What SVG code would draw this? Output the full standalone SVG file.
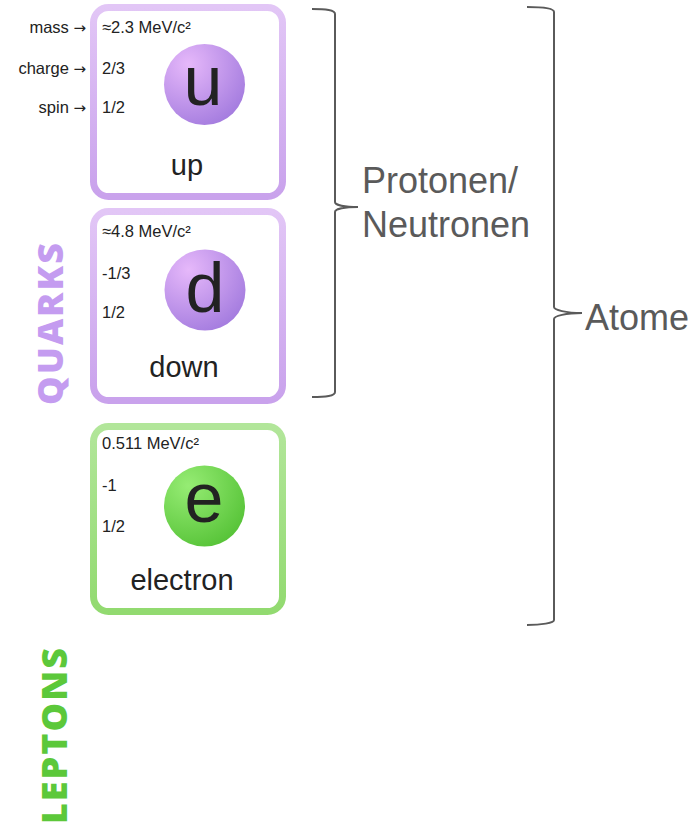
<svg xmlns="http://www.w3.org/2000/svg" width="693" height="826" viewBox="0 0 693 826">
<defs>
<linearGradient id="qBorder" x1="0" y1="0" x2="0" y2="1">
<stop offset="0" stop-color="#e2c6f6"/>
<stop offset="1" stop-color="#c9a2ec"/>
</linearGradient>
<linearGradient id="lBorder" x1="0" y1="0" x2="0" y2="1">
<stop offset="0" stop-color="#b2e69a"/>
<stop offset="1" stop-color="#92da70"/>
</linearGradient>
<radialGradient id="qBall" cx="0.3" cy="0.25" r="0.85">
<stop offset="0" stop-color="#e6b8fa"/>
<stop offset="1" stop-color="#a27ade"/>
</radialGradient>
<radialGradient id="lBall" cx="0.3" cy="0.25" r="0.85">
<stop offset="0" stop-color="#96ec74"/>
<stop offset="1" stop-color="#55c236"/>
</radialGradient>
</defs>
<style>
.card{fill:#ffffff;stroke-width:7}
.q{stroke:url(#qBorder)}
.l{stroke:url(#lBorder)}
.t{font-family:"Liberation Sans",Arial,sans-serif;fill:#222222}
.s{font-size:16.5px}
.ar{font-family:"DejaVu Sans",sans-serif;font-size:15px}
.name{font-size:29px;text-anchor:middle}
.sym{font-size:70px;text-anchor:middle}
.lab{text-anchor:end}
.brace{fill:none;stroke:#5a5a5a;stroke-width:2}
.big{font-family:"Liberation Sans",Arial,sans-serif;font-size:36px;fill:#5a5a5a}
.cat{font-family:"Open Sans","Liberation Sans",Arial,sans-serif;font-size:36px;font-weight:800;letter-spacing:2px;text-anchor:middle}
</style>
<rect width="693" height="826" fill="#ffffff"/>

<g id="legend">
<text class="t s lab" x="86" y="33">mass <tspan class="ar">→</tspan></text>
<text class="t s lab" x="86" y="74">charge <tspan class="ar">→</tspan></text>
<text class="t s lab" x="86" y="113">spin <tspan class="ar">→</tspan></text>
</g>

<g id="up">
<rect class="card q" x="93.5" y="7.5" width="189" height="189" rx="15"/>
<circle cx="204.5" cy="84.5" r="40.5" fill="url(#qBall)"/>
<text class="t sym" x="203" y="105">u</text>
<text class="t s" x="102" y="33">≈2.3 MeV/c²</text>
<text class="t s" x="102" y="74">2/3</text>
<text class="t s" x="102" y="113">1/2</text>
<text class="t name" x="187" y="175">up</text>
</g>

<g id="down">
<rect class="card q" x="93.5" y="211.5" width="189" height="189" rx="15"/>
<circle cx="205" cy="290" r="40.5" fill="url(#qBall)"/>
<text class="t sym" x="205" y="312">d</text>
<text class="t s" x="102" y="237">≈4.8 MeV/c²</text>
<text class="t s" x="102" y="279">-1/3</text>
<text class="t s" x="102" y="318">1/2</text>
<text class="t name" x="184" y="377">down</text>
</g>

<g id="electron">
<rect class="card l" x="93.5" y="426.5" width="189" height="185" rx="15"/>
<circle cx="204.5" cy="506" r="40.5" fill="url(#lBall)"/>
<text class="t sym" x="204" y="522">e</text>
<text class="t s" x="102" y="449">0.511 MeV/c²</text>
<text class="t s" x="102" y="491">-1</text>
<text class="t s" x="102" y="532">1/2</text>
<text class="t name" x="182" y="590">electron</text>
</g>

<g id="quarks">
<text class="cat" transform="translate(63,323) rotate(-90)" fill="#c49cf0">QUARKS</text>
</g>
<g id="leptons">
<text class="cat" transform="translate(67,735) rotate(-90)" fill="#5cc83a">LEPTONS</text>
</g>

<g id="connectors">
<path class="brace" d="M312,9 C326,9 335,10 335,14 L335,202 C335,205 345,207 358,207 C345,207 335,209 335,212 L335,392 C335,396 326,397 312,397"/>
<path class="brace" d="M527,7 C541,7 554,8 554,12 L554,307 C554,310 566,313 582,313 C566,313 554,316 554,319 L554,620 C554,623 541,625 527,625"/>
</g>

<g id="protonen">
<text class="big" x="362" y="193">Protonen/</text>
<text class="big" x="362" y="237">Neutronen</text>
</g>
<g id="atome">
<text class="big" x="585" y="330">Atome</text>
</g>
</svg>
